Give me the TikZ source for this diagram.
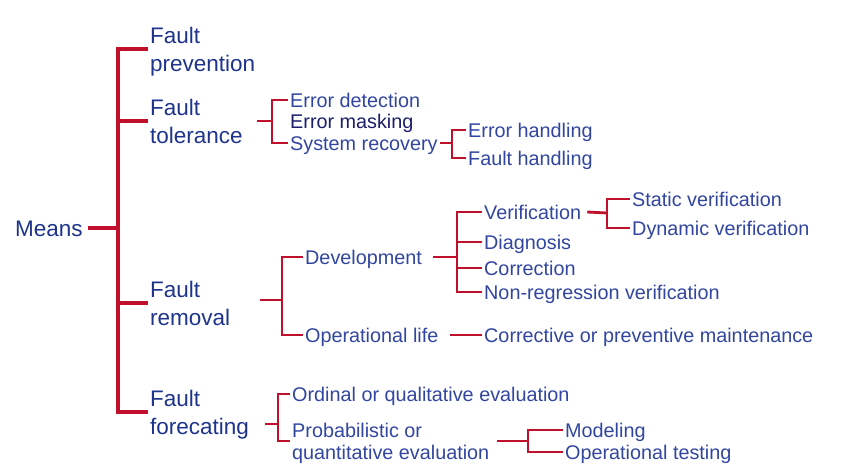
\documentclass[tikz,border=0pt]{standalone}
\usepackage{fontspec}
\setmainfont{Liberation Sans}
\definecolor{redln}{RGB}{192,16,44}
\definecolor{bluemain}{RGB}{30,52,140}
\definecolor{bluesub}{RGB}{50,70,160}
\definecolor{bluedark}{RGB}{26,30,108}
\newcommand{\topstrut}[1]{\rule{0pt}{#1}}
\begin{document}
\begin{tikzpicture}[x=1pt,y=-1pt,
  mainlbl/.style={anchor=west, inner xsep=2pt, inner ysep=0pt, align=left, text=bluemain, font=\fontsize{22.5}{28}\selectfont},
  sublbl/.style={anchor=west, inner xsep=2pt, inner ysep=0pt, text=bluesub, font=\fontsize{19.8}{22.5}\selectfont, text height=14.2pt, text depth=0pt},
  subtwo/.style={anchor=west, inner xsep=2pt, inner ysep=0pt, align=left, text=bluesub, font=\fontsize{19.8}{22}\selectfont},
  mainln/.style={draw=redln, line width=3.2pt},
  subln/.style={draw=redln, line width=2.8pt}]
\useasboundingbox[fill=white] (0,0) rectangle (844,470);

% level 0 and 1
\node[mainlbl, text height=16.1pt, text depth=0pt] (means) at (13,228) {Means};
\node[mainlbl] (prev) at (148,49) {\topstrut{20.8pt}Fault\\prevention};
\node[mainlbl] (tol) at (148,121) {\topstrut{20.8pt}Fault\\tolerance\vphantom{g}};
\node[mainlbl] (rem) at (148,303) {\topstrut{20.8pt}Fault\\removal\vphantom{g}};
\node[mainlbl] (fore) at (148,412) {\topstrut{20.8pt}Fault\\forecating};

\coordinate (j0) at (118,228);
\draw[mainln] ([xshift=3pt]means.east) -- (j0);
\draw[mainln] (prev.west) -| (j0 |- fore.west) -- (fore.west);
\draw[mainln] (tol.west) -- (tol.west -| j0);
\draw[mainln] (rem.west) -- (rem.west -| j0);

% fault tolerance
\node[sublbl] (ed) at (288,100) {Error detection};
\node[sublbl, text=bluedark] (em) at (288,121) {Error masking};
\node[sublbl] (sr) at (288,143) {System recovery};
\coordinate (tfeed) at (257,121);
\coordinate (jt) at (272,121);
\draw[subln] (tfeed) -- (jt);
\draw[subln] (ed.west) -| (jt |- sr.west) -- (sr.west);

\node[sublbl] (eh) at (466,130) {Error handling};
\node[sublbl] (fh) at (466,158) {Fault handling};
\coordinate (js) at (452,143);
\draw[subln] (sr.east) -- (js);
\draw[subln] (eh.west) -| (js |- fh.west) -- (fh.west);

% fault removal
\node[sublbl] (dev) at (303,257) {Development};
\node[sublbl] (ol) at (303,335) {Operational life};
\coordinate (rfeed) at (260,300);
\coordinate (jr) at (282,300);
\draw[subln] (rfeed) -- (jr);
\draw[subln] (dev.west) -| (jr |- ol.west) -- (ol.west);

\node[sublbl] (ver) at (482,212) {Verification};
\node[sublbl] (dia) at (482,242) {Diagnosis};
\node[sublbl] (cor) at (482,268) {Correction};
\node[sublbl] (nrv) at (482,292) {Non-regression verification};
\coordinate (jd) at (457,257);
\draw[subln] ([xshift=9pt]dev.east) -- (jd);
\draw[subln] (ver.west) -| (jd |- nrv.west) -- (nrv.west);
\draw[subln] (dia.west) -- (dia.west -| jd);
\draw[subln] (cor.west) -- (cor.west -| jd);

\node[sublbl] (sv) at (630,199) {Static verification};
\node[sublbl] (dv) at (630,228) {Dynamic verification};
\coordinate (jv) at (607,213);
\draw[subln] ([xshift=4pt]ver.east) -- (jv);
\draw[subln] (sv.west) -| (jv |- dv.west) -- (dv.west);

\node[sublbl] (cpm) at (482,335) {Corrective or preventive maintenance};
\draw[subln] ([xshift=9pt]ol.east) -- (cpm.west);

% fault forecasting
\node[sublbl] (oq) at (290,394) {Ordinal or qualitative evaluation};
\node[subtwo] (pq) at (290,441) {\topstrut{18.4pt}Probabilistic or\\quantitative evaluation};
\coordinate (ffeed) at (265,424);
\coordinate (jf) at (278,424);
\draw[subln] (ffeed) -- (jf);
\draw[subln] (oq.west) -| (jf |- pq.west) -- (pq.west);

\node[sublbl] (mod) at (563,430) {Modeling};
\node[sublbl] (opt) at (563,452) {Operational testing};
\coordinate (pfeed) at (497,441);
\coordinate (jp) at (528,441);
\draw[subln] (pfeed) -- (jp);
\draw[subln] (mod.west) -| (jp |- opt.west) -- (opt.west);
\end{tikzpicture}
\end{document}
